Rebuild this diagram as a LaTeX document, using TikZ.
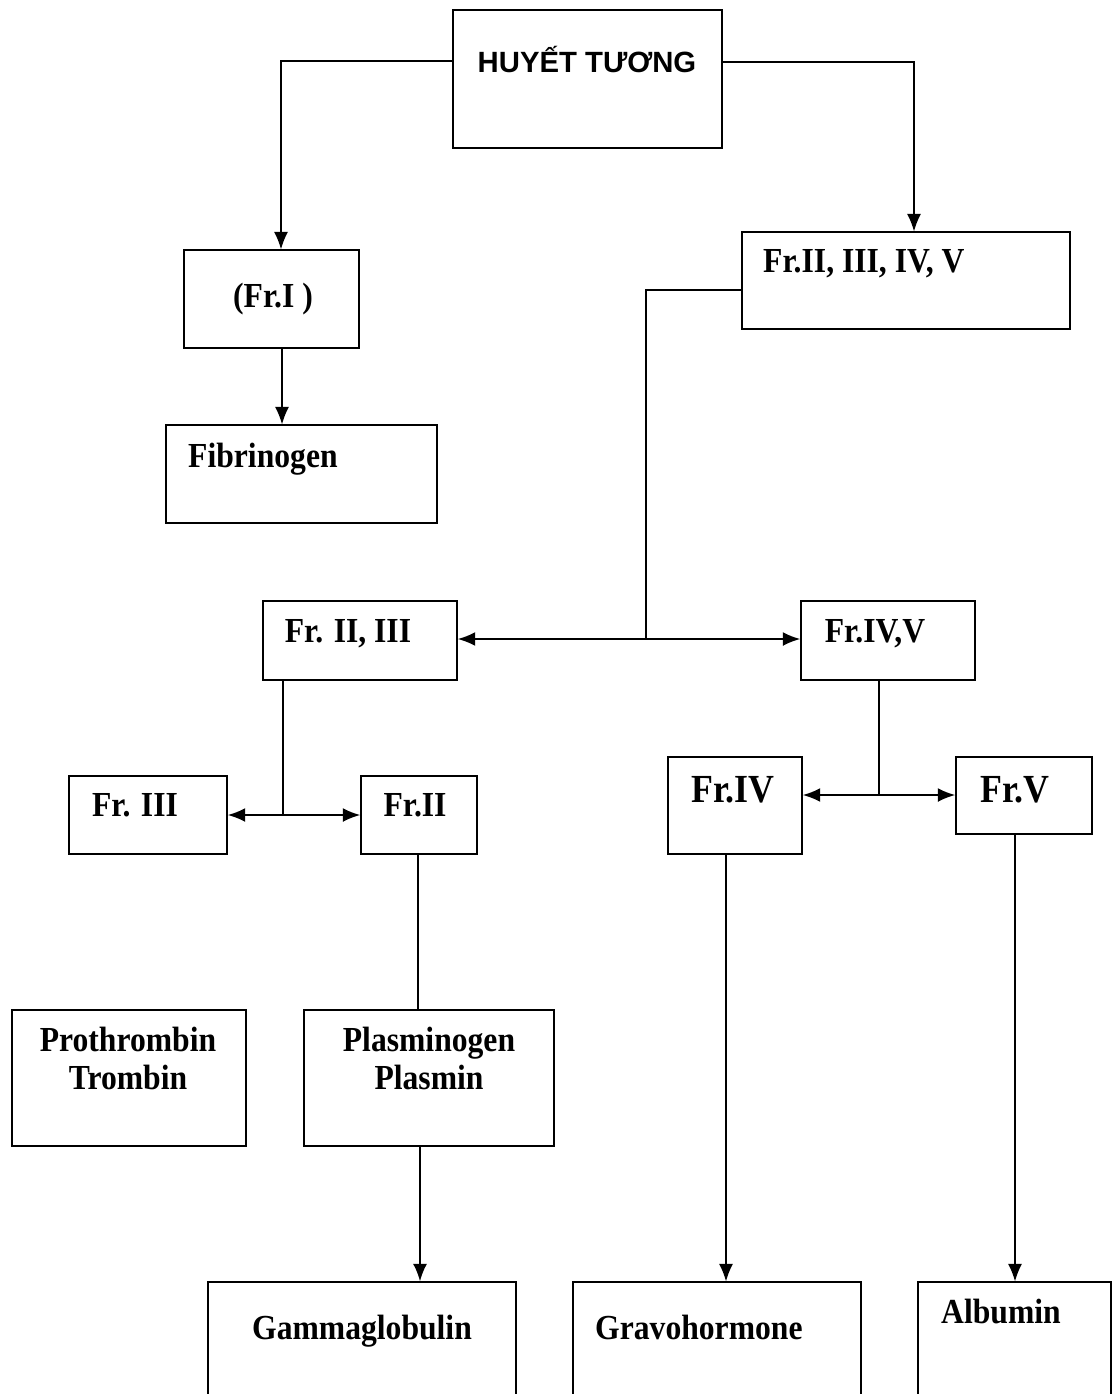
\documentclass[tikz,border=0pt]{standalone}
\usepackage{fontspec}
\setmainfont{Liberation Serif}[FakeStretch=0.9]
\newfontfamily\headfont{Liberation Sans}
\usetikzlibrary{arrows.meta,fit,calc}

\tikzset{
  box/.style={draw, line width=1.1pt, inner sep=0pt},
  lbl/.style={anchor=base, inner sep=0pt, font=\fontsize{30}{36}\selectfont\bfseries},
  biglbl/.style={lbl, font=\fontsize{34}{40}\selectfont\bfseries},
  link/.style={line width=1.1pt},
  arr/.style={link, -{Latex[length=15pt,width=12pt]}},
  harr/.style={line width=1.8pt, -{Latex[length=15pt,width=12pt]}},
}

\begin{document}
\begin{tikzpicture}[x=0.03cm, y=-0.03cm]
\useasboundingbox (0,0) rectangle (1113,1394);
\clip (0,0) rectangle (1113,1394);

% boxes
\node[box, fit={(453,10) (722,148)}] (plasma) {};
\node[box, fit={(742,232) (1070,329)}] (frMix) {};
\node[box, fit={(184,250) (359,348)}] (frI) {};
\node[box, fit={(166,425) (437,523)}] (fib) {};
\node[box, fit={(263,601) (457,680)}] (frIIIII) {};
\node[box, fit={(801,601) (975,680)}] (frIVV) {};
\node[box, fit={(69,776) (227,854)}] (frIII) {};
\node[box, fit={(361,776) (477,854)}] (frII) {};
\node[box, fit={(668,757) (802,854)}] (frIV) {};
\node[box, fit={(956,757) (1092,834)}] (frV) {};
\node[box, fit={(12,1010) (246,1146)}] (prot) {};
\node[box, fit={(304,1010) (554,1146)}] (plasm) {};
\node[box, fit={(208,1282) (516,1420)}] (gamma) {};
\node[box, fit={(573,1282) (861,1420)}] (grav) {};
\node[box, fit={(918,1282) (1111,1420)}] (alb) {};

% texts
\node[lbl, font=\headfont\fontsize{25}{30}\selectfont\bfseries] (plasmaT) at (587,72) {HUYẾT TƯƠNG};
\node[lbl, anchor=base west] (frMixT) at (763,272) {Fr.II, III, IV, V};
\node[lbl] (frIT) at (273,307) {(Fr.I )};
\node[lbl, anchor=base west] (fibT) at (188,467) {Fibrinogen};
\node[lbl] (frIIIIIT) at (348,642) {Fr. II, III};
\node[lbl] (frIVVT) at (875,642) {Fr.IV,V};
\node[lbl] (frIIIT) at (135,816) {Fr. III};
\node[lbl] (frIIT) at (415,816) {Fr.II};
\node[biglbl] (frIVT) at (733,802) {Fr.IV};
\node[biglbl] (frVT) at (1015,802) {Fr.V};
\node[lbl] (protT) at (128,1051) {Prothrombin};
\node[lbl] (tromT) at (128,1089) {Trombin};
\node[lbl] (plasmT) at (429,1051) {Plasminogen};
\node[lbl] (plasmiT) at (429,1089) {Plasmin};
\node[lbl] (gammaT) at (362,1339) {Gammaglobulin};
\node[lbl, anchor=base west] (gravT) at (595,1339) {Gravohormone};
\node[lbl, anchor=base west] (albT) at (941,1323) {Albumin};

% connectors
\coordinate (jL) at (281,61);
\coordinate (jR) at (914,62);
\coordinate (xI) at (282,0);
\coordinate (jM0) at (646,290);
\coordinate (jM) at (646,639);
\coordinate (jA) at (283,815);
\coordinate (jB) at (879,795);
\coordinate (xII) at (418,0);
\coordinate (xP) at (420,0);
\coordinate (xIV) at (726,0);
\coordinate (xV) at (1015,0);

\draw[arr] (plasma.west |- jL) -| (jL |- frI.north);
\draw[arr] (plasma.east |- jR) -| (jR |- frMix.north);
\draw[arr] (xI |- frI.south) -- (xI |- fib.north);
\draw[link] (frMix.west |- jM0) -| (jM);
\draw[harr] (jM) -- (frIIIII.east |- jM);
\draw[harr] (jM) -- (frIVV.west |- jM);
\draw[link] (jA |- frIIIII.south) -- (jA);
\draw[harr] (jA) -- (frIII.east |- jA);
\draw[harr] (jA) -- (frII.west |- jA);
\draw[link] (jB |- frIVV.south) -- (jB);
\draw[harr] (jB) -- (frIV.east |- jB);
\draw[harr] (jB) -- (frV.west |- jB);
\draw[link] (xII |- frII.south) -- (xII |- plasm.north);
\draw[arr, line width=1.6pt] (xP |- plasm.south) -- (xP |- gamma.north);
\draw[arr] (xIV |- frIV.south) -- (xIV |- grav.north);
\draw[arr] (xV |- frV.south) -- (xV |- alb.north);
\end{tikzpicture}
\end{document}
